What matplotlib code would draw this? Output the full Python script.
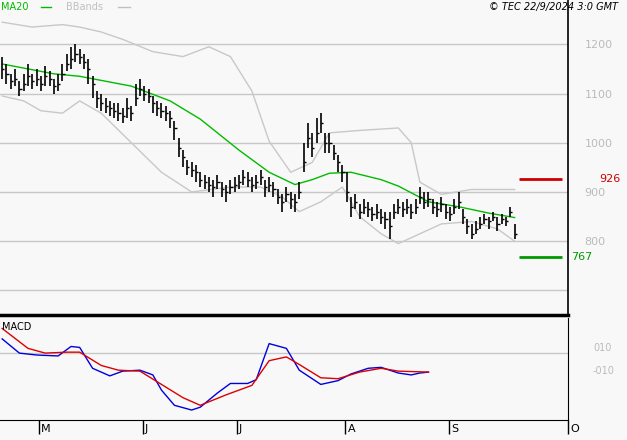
import matplotlib
matplotlib.use("Agg")
import matplotlib.pyplot as plt

# daily closes (trading-day index 0..119)
closes = [1150, 1140, 1125, 1130, 1110, 1120, 1135, 1125, 1130, 1120, 1135, 1130, 1115, 1120,
          1140, 1160, 1170, 1180, 1175, 1165, 1150, 1120,
          1090, 1080, 1075, 1070, 1065, 1060, 1055, 1070, 1060,
          1090, 1110, 1100, 1095, 1080,
          1070, 1065, 1060, 1050, 1030,
          990, 970, 950, 945, 940,
          925, 920, 915, 910, 920, 905, 900, 910, 915, 920,
          930, 925, 915, 920, 930, 910, 915,
          905, 890, 880, 895, 885, 880, 900,
          960, 1010, 990, 1020, 1040, 1000, 1000,
          980, 960, 940, 900,
          870, 880, 860, 870, 865, 855, 860, 850, 845, 830,
          860, 870, 865, 870, 860, 870,
          890, 880, 885, 870, 865, 875, 860, 855, 870, 880, 850,
          830, 815, 825, 835, 845, 840,
          850, 835, 845, 840, 860, 815]
bar_up = [25, 20, 15, 20, 15, 20, 25, 15, 20, 15, 20, 15, 15, 20,
          20, 20, 25, 20, 15, 15, 20, 15,
          15, 20, 15, 15, 15, 20, 15, 20, 15,
          30, 20, 15, 15, 15,
          15, 15, 15, 15, 15,
          20, 15, 15, 15, 15,
          15, 15, 15, 15, 15, 15, 15, 15, 15, 15,
          15, 15, 15, 15, 15, 15, 15,
          15, 15, 15, 15, 15, 15, 20,
          40, 30, 30, 30, 20, 20, 20,
          15, 15, 15, 40,
          20, 15, 15, 15, 15, 15, 15, 15, 15, 30,
          15, 15, 15, 15, 15, 15,
          20, 20, 15, 15, 15, 15, 15, 15, 15, 20, 15,
          15, 20, 15, 15, 10, 10,
          10, 15, 10, 10, 10, 20]
bar_dn = [20, 20, 15, 15, 15, 15, 20, 15, 15, 15, 20, 15, 15, 15,
          15, 15, 20, 15, 15, 15, 30, 30,
          20, 15, 15, 15, 15, 15, 15, 20, 15,
          15, 15, 15, 15, 20,
          15, 15, 15, 20, 25,
          20, 20, 15, 15, 20,
          15, 15, 15, 20, 15, 15, 20, 15, 15, 15,
          15, 15, 15, 15, 15, 20, 15,
          15, 15, 20, 15, 20, 20, 15,
          20, 20, 20, 20, 20, 20, 20,
          15, 20, 20, 20,
          20, 15, 15, 15, 15, 15, 15, 15, 20, 25,
          15, 15, 15, 15, 15, 15,
          15, 15, 15, 15, 15, 15, 15, 15, 15, 15, 15,
          15, 10, 10, 10, 10, 15,
          10, 15, 10, 10, 10, 10]

ma_x = [0, 12, 18, 30, 39, 46, 55, 62, 68, 72, 76, 81, 88, 92, 99, 106, 113, 119]
ma20 = [1160, 1140, 1135, 1115, 1085, 1048, 985, 940, 915, 925, 938, 940, 925, 912, 880, 870, 857, 848]
band_x = [0, 7, 14, 18, 23, 28, 35, 42, 48, 53, 58, 62, 67, 72, 76, 83, 92, 95, 97, 102, 109, 119]
band_up = [1245, 1235, 1240, 1235, 1225, 1210, 1185, 1175, 1195, 1175, 1105, 1003, 940, 960, 1020,
           1025, 1030, 1000, 920, 895, 905, 905]
band_lo_x = [0, 5, 9, 14, 18, 23, 30, 37, 44, 53, 60, 65, 69, 74, 79, 83, 88, 92, 97, 102, 109, 115, 119]
band_lo = [1095, 1085, 1065, 1060, 1085, 1060, 1000, 940, 900, 910, 910, 890, 860, 880, 910, 850,
           815, 795, 815, 835, 840, 825, 800]

macd_x = [0, 4, 8, 13, 16, 18, 21, 25, 28, 32, 35, 37, 40, 44, 46, 50, 53, 57, 59, 62, 66, 69, 74,
          78, 81, 85, 88, 92, 95, 97, 99]
macd = [25, 10, 8, 7, 17, 16, -6, -14, -9, -8, -13, -29, -45, -50, -47, -32, -22, -22, -18, 20, 15,
        -8, -23, -19, -12, -6, -5, -11, -13, -11, -10]
sig_x = [0, 6, 10, 15, 18, 23, 27, 32, 37, 42, 46, 52, 58, 62, 66, 69, 74, 78, 83, 88, 92, 99]
signal = [36, 15, 10, 11, 11, -3, -8, -9, -23, -37, -45, -34, -24, 2, 6, -2, -16, -17, -10, -6, -9, -10]

month_pos = [8.5, 32.6, 54.5, 79.7, 103.7, 131.4]
month_labels = ["M", "J", "J", "A", "S", "O"]
price_ticks = [800, 900, 1000, 1100, 1200]
resist, support = 926, 767

bg = "#f8f8f8"
fig = plt.figure(figsize=(6.27, 4.40), dpi=100, facecolor=bg)
W, H = 627, 440
xlim = (-0.5, 131.4)

ax = fig.add_axes([0, 1 - 315 / H, 568 / W, 315 / H], facecolor=bg)
for v in [700] + price_ticks:
    ax.axhline(v, color="#c8c8c8", linewidth=1, zorder=0)
ax.plot(band_x, band_up, color="#c8c8c8", linewidth=1)
ax.plot(band_lo_x, band_lo, color="#c8c8c8", linewidth=1)
ax.plot(ma_x, ma20, color="#00bb00", linewidth=1)
for i, c in enumerate(closes):
    ax.vlines(i, c - bar_dn[i], c + bar_up[i], color="black", linewidth=1.2)
    ax.hlines(c, i, i + 0.5, color="black", linewidth=1)
ax.hlines(resist, 120, 130, color="#cc0000", linewidth=2)
ax.hlines(support, 120, 130, color="#009900", linewidth=2)
ax.set_xlim(*xlim)
ax.set_ylim(650, 1290)
ax.set_xticks([])
ax.yaxis.tick_right()
ax.set_yticks(price_ticks)
ax.tick_params(axis="y", length=0, pad=12, labelsize=8, labelcolor="#bbbbbb")
for s in ["top", "left"]:
    ax.spines[s].set_visible(False)
ax.spines["right"].set_linewidth(1.2)
ax.spines["bottom"].set_linewidth(2.5)
ax.text(1.055, resist, "926", color="#cc0000", fontsize=8, transform=ax.get_yaxis_transform(), va="center")
ax.text(1.005, support, "767", color="#009900", fontsize=8, transform=ax.get_yaxis_transform(), va="center")
fig.text(0.002, 0.985, "MA20", color="#00bb00", fontsize=7, va="center")
fig.add_artist(plt.Line2D([0.066, 0.082], [0.985, 0.985], color="#00bb00", linewidth=1))
fig.text(0.105, 0.985, "BBands", color="#c0c0c0", fontsize=7, va="center")
fig.add_artist(plt.Line2D([0.188, 0.207], [0.985, 0.985], color="#c0c0c0", linewidth=1))
fig.text(0.985, 0.985, "© TEC 22/9/2024 3:0 GMT", fontsize=7, style="italic", ha="right", va="center")

am = fig.add_axes([0, 1 - 420 / H, 568 / W, 102 / H], facecolor=bg)
am.axhline(10, color="#c8c8c8", linewidth=1, zorder=0)
am.plot(macd_x, macd, color="#0000dd", linewidth=1)
am.plot(sig_x, signal, color="#dd0000", linewidth=1)
am.set_xlim(*xlim)
am.set_ylim(-60.5, 47)
am.yaxis.tick_right()
am.set_yticks([16, -8])
am.set_yticklabels(["010", "-010"])
am.tick_params(axis="y", length=0, pad=18, labelsize=7, labelcolor="#bbbbbb")
am.set_xticks(month_pos)
am.set_xticklabels([])
am.tick_params(axis="x", direction="out", length=10, width=1)
for p, lab in zip(month_pos, month_labels):
    am.text(p + 0.5, -0.04, lab, transform=am.get_xaxis_transform(), fontsize=8, va="top", ha="left")
for s in ["top", "left"]:
    am.spines[s].set_visible(False)
am.text(0.003, 0.88, "MACD", transform=am.transAxes, fontsize=7)

fig.savefig("out.png", dpi=100, facecolor=bg)
